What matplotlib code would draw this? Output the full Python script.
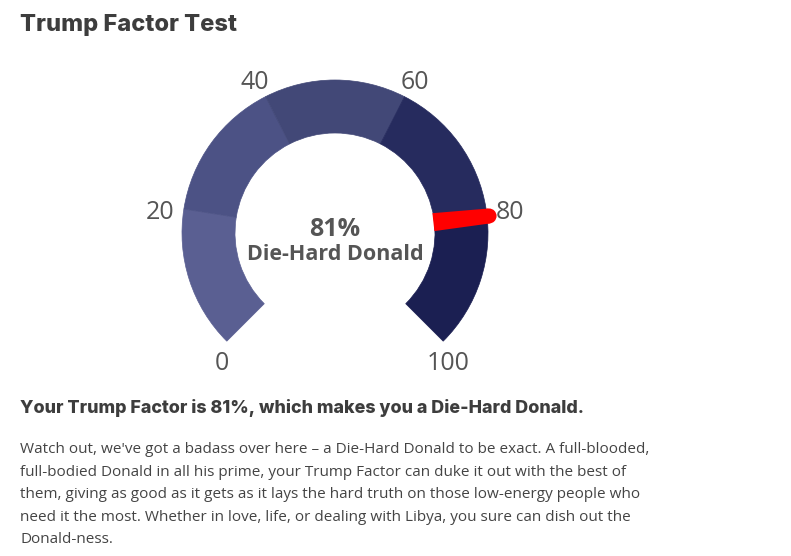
import numpy as np
import matplotlib
matplotlib.use("Agg")
import matplotlib.pyplot as plt
from matplotlib.patches import Wedge, Polygon, Circle

# gauge data
band_edges = [0, 20, 40, 60, 80, 100]
band_colors = ['#5a5f92', '#4c5285', '#424877', '#262b5e', '#1b1f52']
tick_values = [0, 20, 40, 60, 80, 100]
score = 81
result_name = 'Die-Hard Donald'

title = 'Trump Factor Test'
headline = f'Your Trump Factor is {score}%, which makes you a {result_name}.'
body_lines = [
    "Watch out, we've got a badass over here \u2013 a Die-Hard Donald to be exact. A full-blooded,",
    "full-bodied Donald in all his prime, your Trump Factor can duke it out with the best of",
    "them, giving as good as it gets as it lays the hard truth on those low-energy people who",
    "need it the most. Whether in love, life, or dealing with Libya, you sure can dish out the",
    "Donald-ness.",
]

W, H = 791, 556
fig = plt.figure(figsize=(W / 100, H / 100), dpi=100)
ax = fig.add_axes([0, 0, 1, 1])
ax.set_xlim(0, W)
ax.set_ylim(0, H)
ax.set_aspect('equal')
ax.axis('off')

def Y(py):
    return H - py

cx, cy = 335, Y(233)
r_out, r_in = 153, 100
start_ang, sweep = 225.0, 270.0

def ang(v):
    return start_ang - sweep * v / 100.0

for i, col in enumerate(band_colors):
    w = Wedge((cx, cy), r_out, ang(band_edges[i + 1]), ang(band_edges[i]),
              width=r_out - r_in, facecolor=col, edgecolor=col, lw=0.5)
    ax.add_patch(w)

# tick labels: the two end labels hang below the arc ends
for v in tick_values:
    a = np.radians(ang(v))
    if v in (tick_values[0], tick_values[-1]):
        r_lab, va, dy = 160, 'top', -5
    else:
        r_lab, va, dy = 177, 'center', -7
    ax.text(cx + r_lab * np.cos(a), cy + r_lab * np.sin(a) + dy, str(v),
            ha='center', va=va, fontsize=18, color='#555555',
            family='Open Sans')

# needle
a = np.radians(ang(score))
d = np.array([np.cos(a), np.sin(a)])
n = np.array([-np.sin(a), np.cos(a)])
r0, r1 = 99, 155
hw0, hw1 = 9, 7.5
p0 = np.array([cx, cy]) + r0 * d
p1 = np.array([cx, cy]) + r1 * d
needle = Polygon([p0 + hw0 * n, p1 + hw1 * n, p1 - hw1 * n, p0 - hw0 * n],
                 closed=True, facecolor='#ff0000', edgecolor='none', zorder=5)
ax.add_patch(needle)
ax.add_patch(Circle(p1, hw1, facecolor='#ff0000', edgecolor='none', zorder=5))

# center text
ax.text(cx, Y(230), f'{score}%', ha='center', va='center', fontsize=18,
        fontweight='bold', color='#555555', family='Open Sans')
ax.text(cx, Y(255), result_name, ha='center', va='center', fontsize=15.5,
        fontweight='bold', color='#555555', family='Open Sans')

# page text
ax.text(20, Y(31), title, ha='left', va='baseline', fontsize=17,
        fontweight='heavy', color='#3d3d3d', family='Inter')
ax.text(20, Y(413), headline, ha='left', va='baseline', fontsize=12.9,
        fontweight='heavy', color='#3d3d3d', family='Inter')
for i, line in enumerate(body_lines):
    ax.text(20, Y(453.3 + 22.5 * i), line, ha='left', va='baseline',
            fontsize=11, color='#444444', family='Open Sans')

fig.savefig('out.png', dpi=100)
